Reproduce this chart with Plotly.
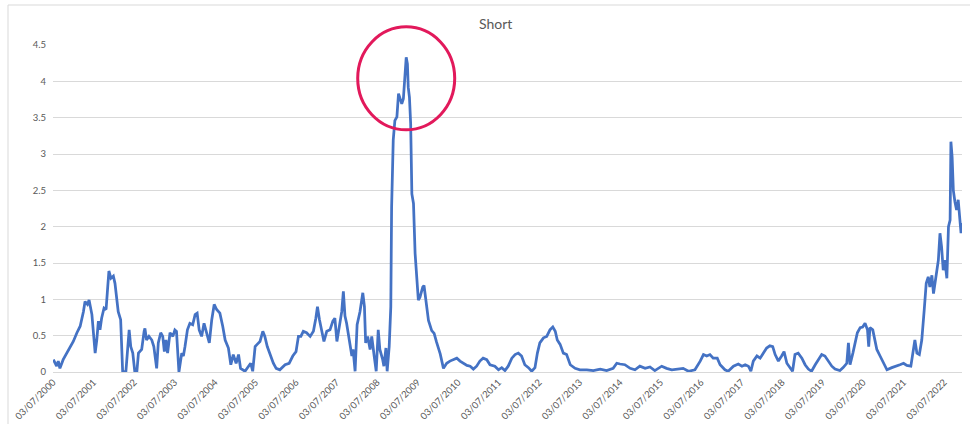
import calendar

import pandas as pd
import plotly.graph_objects as go

# "Short" series: observation time (decimal years) and value
dec_years = [
    2000.51, 2000.59, 2000.63, 2000.67, 2000.75, 2000.84, 2000.92, 2001.00, 2001.09, 2001.17,
    2001.25, 2001.29, 2001.35, 2001.39, 2001.46, 2001.54, 2001.58, 2001.62, 2001.66, 2001.70,
    2001.76, 2001.81, 2001.84, 2001.88, 2001.93, 2001.99, 2002.03, 2002.07, 2002.11, 2002.17,
    2002.22, 2002.30, 2002.36, 2002.38, 2002.42, 2002.47, 2002.52, 2002.57, 2002.61, 2002.69,
    2002.75, 2002.77, 2002.81, 2002.87, 2002.94, 2002.99, 2003.06, 2003.10, 2003.16, 2003.21,
    2003.25, 2003.29, 2003.33, 2003.39, 2003.46, 2003.51, 2003.55, 2003.61, 2003.68, 2003.72,
    2003.76, 2003.82, 2003.88, 2003.95, 2004.01, 2004.06, 2004.11, 2004.17, 2004.23, 2004.30,
    2004.36, 2004.42, 2004.48, 2004.54, 2004.62, 2004.69, 2004.75, 2004.83, 2004.89, 2004.95,
    2005.02, 2005.08, 2005.13, 2005.24, 2005.32, 2005.38, 2005.43, 2005.49, 2005.54, 2005.61,
    2005.68, 2005.73, 2005.79, 2005.86, 2005.94, 2006.01, 2006.10, 2006.23, 2006.33, 2006.42,
    2006.50, 2006.56, 2006.62, 2006.68, 2006.76, 2006.85, 2006.93, 2006.99, 2007.03, 2007.08,
    2007.13, 2007.19, 2007.26, 2007.34, 2007.41, 2007.46, 2007.51, 2007.57, 2007.63, 2007.67,
    2007.71, 2007.75, 2007.82, 2007.88, 2007.91, 2007.96, 2008.01, 2008.08, 2008.15, 2008.19,
    2008.22, 2008.27, 2008.33, 2008.37, 2008.43, 2008.48, 2008.53, 2008.57, 2008.64, 2008.67,
    2008.72, 2008.75, 2008.80, 2008.84, 2008.86, 2008.90, 2008.94, 2008.99, 2009.03, 2009.07,
    2009.11, 2009.15, 2009.19, 2009.22, 2009.25, 2009.27, 2009.30, 2009.33, 2009.36, 2009.40,
    2009.44, 2009.48, 2009.52, 2009.56, 2009.63, 2009.66, 2009.71, 2009.77, 2009.85, 2009.91,
    2009.97, 2010.06, 2010.14, 2010.22, 2010.30, 2010.38, 2010.47, 2010.55, 2010.63, 2010.72,
    2010.80, 2010.88, 2010.96, 2011.04, 2011.12, 2011.21, 2011.29, 2011.41, 2011.50, 2011.58,
    2011.66, 2011.74, 2011.83, 2011.91, 2011.99, 2012.07, 2012.15, 2012.24, 2012.32, 2012.40,
    2012.46, 2012.52, 2012.61, 2012.69, 2012.77, 2012.84, 2012.90, 2012.95, 2013.02, 2013.10,
    2013.18, 2013.27, 2013.39, 2013.51, 2013.68, 2013.84, 2014.01, 2014.17, 2014.33, 2014.42,
    2014.50, 2014.62, 2014.75, 2014.87, 2014.99, 2015.12, 2015.24, 2015.36, 2015.53, 2015.65,
    2015.78, 2015.94, 2016.06, 2016.19, 2016.35, 2016.48, 2016.56, 2016.64, 2016.72, 2016.80,
    2016.90, 2016.97, 2017.09, 2017.17, 2017.30, 2017.42, 2017.51, 2017.59, 2017.67, 2017.73,
    2017.79, 2017.88, 2017.96, 2018.04, 2018.12, 2018.20, 2018.27, 2018.33, 2018.41, 2018.49,
    2018.55, 2018.62, 2018.70, 2018.76, 2018.82, 2018.90, 2018.99, 2019.07, 2019.15, 2019.23,
    2019.32, 2019.40, 2019.48, 2019.56, 2019.64, 2019.73, 2019.81, 2019.93, 2020.01, 2020.10,
    2020.14, 2020.18, 2020.25, 2020.30, 2020.36, 2020.43, 2020.49, 2020.55, 2020.61, 2020.64,
    2020.67, 2020.74, 2020.80, 2020.84, 2020.92, 2021.00, 2021.09, 2021.21, 2021.33, 2021.41,
    2021.50, 2021.58, 2021.68, 2021.74, 2021.78, 2021.83, 2021.89, 2021.95, 2021.99, 2022.01,
    2022.06, 2022.11, 2022.15, 2022.20, 2022.24, 2022.28, 2022.32, 2022.36, 2022.40, 2022.44,
    2022.48, 2022.52, 2022.57, 2022.61, 2022.65, 2022.67, 2022.70, 2022.73, 2022.77, 2022.81,
    2022.85, 2022.90, 2022.92, 2022.94,
]

short_values = [
    0.17, 0.08, 0.15, 0.05, 0.17, 0.26, 0.35, 0.42, 0.54, 0.63,
    0.83, 0.97, 0.93, 0.99, 0.79, 0.26, 0.44, 0.70, 0.58, 0.74,
    0.88, 0.86, 1.09, 1.39, 1.29, 1.32, 1.22, 1.04, 0.83, 0.72,
    0.00, 0.01, 0.44, 0.58, 0.35, 0.26, 0.00, 0.00, 0.26, 0.31,
    0.56, 0.60, 0.44, 0.49, 0.44, 0.35, 0.05, 0.40, 0.54, 0.49,
    0.28, 0.44, 0.26, 0.54, 0.49, 0.58, 0.56, 0.00, 0.26, 0.22,
    0.35, 0.58, 0.67, 0.65, 0.79, 0.81, 0.58, 0.49, 0.67, 0.54,
    0.40, 0.72, 0.93, 0.86, 0.81, 0.63, 0.44, 0.33, 0.10, 0.24,
    0.12, 0.24, 0.05, 0.01, 0.08, 0.12, 0.01, 0.35, 0.38, 0.42,
    0.56, 0.49, 0.35, 0.24, 0.12, 0.05, 0.03, 0.10, 0.12, 0.22,
    0.28, 0.49, 0.49, 0.56, 0.54, 0.49, 0.56, 0.74, 0.90, 0.72,
    0.58, 0.42, 0.56, 0.58, 0.70, 0.74, 0.42, 0.63, 0.83, 1.11,
    0.77, 0.67, 0.40, 0.22, 0.31, 0.01, 0.65, 0.83, 1.09, 0.90,
    0.40, 0.49, 0.31, 0.49, 0.22, 0.01, 0.58, 0.31, 0.17, 0.08,
    0.33, 0.01, 0.35, 0.90, 2.27, 3.19, 3.46, 3.51, 3.83, 3.76,
    3.69, 3.76, 4.06, 4.33, 4.24, 3.92, 3.78, 3.42, 2.45, 2.32,
    1.63, 1.26, 0.99, 1.03, 1.17, 1.19, 0.99, 0.71, 0.57, 0.53,
    0.41, 0.25, 0.05, 0.12, 0.15, 0.17, 0.19, 0.15, 0.12, 0.09,
    0.08, 0.04, 0.08, 0.15, 0.19, 0.17, 0.10, 0.08, 0.03, 0.06,
    0.02, 0.08, 0.19, 0.24, 0.26, 0.22, 0.10, 0.06, 0.01, 0.06,
    0.26, 0.40, 0.47, 0.49, 0.58, 0.62, 0.56, 0.44, 0.38, 0.26,
    0.24, 0.10, 0.05, 0.03, 0.03, 0.02, 0.04, 0.02, 0.05, 0.12,
    0.11, 0.10, 0.05, 0.03, 0.08, 0.05, 0.07, 0.02, 0.08, 0.05,
    0.03, 0.04, 0.05, 0.01, 0.03, 0.15, 0.24, 0.22, 0.24, 0.19,
    0.19, 0.10, 0.03, 0.01, 0.08, 0.11, 0.08, 0.10, 0.08, 0.01,
    0.15, 0.22, 0.19, 0.26, 0.33, 0.36, 0.35, 0.24, 0.15, 0.22,
    0.28, 0.12, 0.05, 0.01, 0.24, 0.26, 0.19, 0.10, 0.04, 0.01,
    0.10, 0.17, 0.24, 0.22, 0.15, 0.08, 0.04, 0.02, 0.06, 0.12,
    0.40, 0.10, 0.26, 0.40, 0.54, 0.61, 0.62, 0.67, 0.58, 0.35,
    0.61, 0.58, 0.44, 0.31, 0.22, 0.12, 0.03, 0.06, 0.08, 0.10,
    0.12, 0.09, 0.08, 0.31, 0.44, 0.26, 0.24, 0.44, 0.67, 0.85,
    1.22, 1.31, 1.17, 1.33, 1.08, 1.24, 1.40, 1.54, 1.91, 1.72,
    1.40, 1.54, 1.29, 2.00, 2.09, 3.17, 2.96, 2.50, 2.34, 2.23,
    2.37, 2.09, 1.91, 2.05,
]

tick_years = list(range(2000, 2023))
tick_labels = [f"03/07/{y}" for y in tick_years]
y_ticks = [0, 0.5, 1, 1.5, 2, 2.5, 3, 3.5, 4, 4.5]
y_tick_labels = ["0", "0.5", "1", "1.5", "2", "2.5", "3", "3.5", "4", "4.5"]
Y_MAX = 4.5


def to_date(year_value):
    """Turn a decimal year into a timestamp."""
    year = int(year_value)
    days = 366 if calendar.isleap(year) else 365
    return pd.Timestamp(year=year, month=1, day=1) + pd.Timedelta(days=(year_value - year) * days)


dates = [to_date(v) for v in dec_years]
tick_dates = [pd.Timestamp(year=y, month=7, day=3) for y in tick_years]

GRID = "#d9d9d9"
TEXT = "#595959"
FONT = "Lato, Liberation Sans, sans-serif"

fig = go.Figure()
fig.add_trace(go.Scatter(
    x=dates, y=short_values, mode="lines",
    line=dict(color="#4472c4", width=2.75),
    hoverinfo="skip", showlegend=False,
))

# Highlight ring around the series maximum (paper y so it is not clipped at the top)
peak_i = max(range(len(short_values)), key=lambda i: short_values[i])
fig.add_shape(
    type="circle", xref="x", yref="paper",
    xsizemode="pixel", ysizemode="pixel",
    xanchor=dates[peak_i], yanchor=short_values[peak_i] / Y_MAX,
    x0=-48.5, x1=48.5, y0=-72.5, y1=30.5,
    line=dict(color="#e2195b", width=3),
)

# Chart frame (left and top edges)
fig.add_shape(type="line", xref="paper", yref="paper",
              x0=-0.0495, x1=-0.0495, y0=-0.2, y1=1.1223,
              line=dict(color=GRID, width=1))
fig.add_shape(type="line", xref="paper", yref="paper",
              x0=-0.0495, x1=1.01, y0=1.1223, y1=1.1223,
              line=dict(color=GRID, width=1))

fig.update_layout(
    width=970, height=424,
    margin=dict(l=53, r=8, t=45, b=52, autoexpand=False),
    paper_bgcolor="white", plot_bgcolor="white",
    font=dict(family=FONT, color=TEXT, size=10),
    title=dict(text="Short", x=0.511, xanchor="center", y=0.943, yanchor="middle",
               font=dict(family=FONT, size=14, color=TEXT)),
    xaxis=dict(
        type="date",
        range=[to_date(2000.50), to_date(2022.944)],
        tickmode="array", tickvals=tick_dates, ticktext=tick_labels,
        tickangle=-45, tickfont=dict(size=9.5, color=TEXT),
        showgrid=False, zeroline=False,
        showline=True, linecolor=GRID, linewidth=1,
        ticks="", fixedrange=True, automargin=False,
    ),
    yaxis=dict(
        range=[0, Y_MAX],
        tickmode="array", tickvals=y_ticks, ticktext=y_tick_labels,
        tickfont=dict(size=9.5, color=TEXT),
        showgrid=True, gridcolor=GRID, gridwidth=1,
        zeroline=False, showline=False, ticks="",
        ticklabelstandoff=6, fixedrange=True, automargin=False,
    ),
)

fig.write_html("out.html")
